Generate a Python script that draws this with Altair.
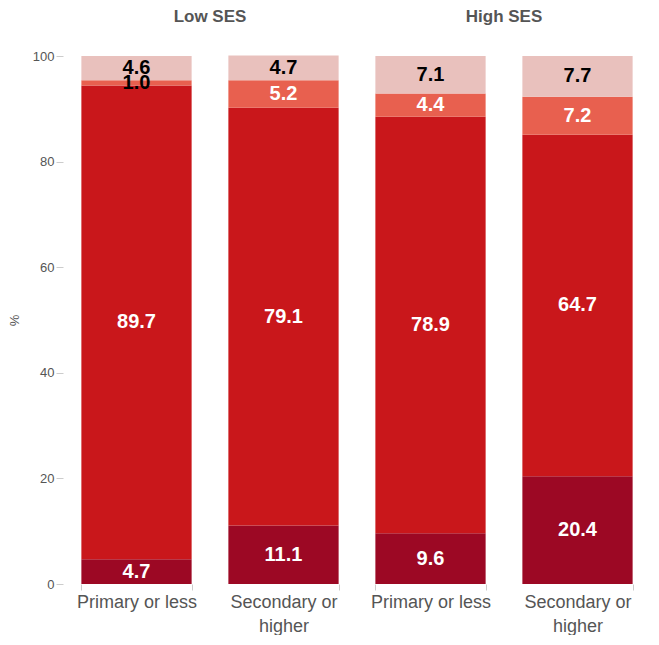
import altair as alt
import pandas as pd

ses = ["Low SES", "Low SES", "High SES", "High SES"]
edu = ["Primary or less", "Secondary or higher", "Primary or less", "Secondary or higher"]
seg_names = ["s1", "s2", "s3", "s4"]
seg_colors = ["#9c0824", "#c9171b", "#e8604f", "#e9c1bd"]
s1 = [4.7, 11.1, 9.6, 20.4]
s2 = [89.7, 79.1, 78.9, 64.7]
s3 = [1.0, 5.2, 4.4, 7.2]
s4 = [4.6, 4.7, 7.1, 7.7]
text_colors = {
    "s1": ["white", "white", "white", "white"],
    "s2": ["white", "white", "white", "white"],
    "s3": ["black", "white", "white", "white"],
    "s4": ["black", "black", "black", "black"],
}

rows = []
for k, (name, vals) in enumerate(zip(seg_names, [s1, s2, s3, s4])):
    for i in range(4):
        rows.append({"ses": ses[i], "edu": edu[i], "seg": name, "order": k,
                     "value": vals[i], "tc": text_colors[name][i]})
df = pd.DataFrame(rows)

FONT = "Liberation Sans"
GRAY = "#555555"

base = alt.Chart(df).transform_stack(
    stack="value", groupby=["ses", "edu"], as_=["v0", "v1"],
    sort=[alt.SortField("order", order="ascending")]
).transform_calculate(mid="(datum.v0 + datum.v1) / 2")

xenc = alt.X("edu:N", title=None, sort=edu[:2],
             scale=alt.Scale(paddingInner=0.25, paddingOuter=0.125),
             axis=alt.Axis(labelAngle=0, labelFontSize=18, labelColor=GRAY,
                           labelFont=FONT, domain=False,
                           tickBand="extent", tickColor="#cccccc", tickSize=6,
                           labelPadding=3, labelLineHeight=24,
                           labelExpr="datum.value == 'Secondary or higher' ? ['Secondary or', 'higher'] : datum.value"))

bars = base.mark_bar().encode(
    x=xenc,
    y=alt.Y("v0:Q", title="%", scale=alt.Scale(domain=[0, 100], nice=False),
            axis=alt.Axis(values=[0, 20, 40, 60, 80, 100], grid=False, domain=False,
                          tickColor="#cccccc", tickSize=7, labelColor=GRAY,
                          labelFontSize=13, labelFont=FONT, labelPadding=2,
                          titleFontSize=13, titleFontWeight="normal",
                          titleColor=GRAY, titleFont=FONT, titlePadding=11)),
    y2="v1:Q",
    color=alt.Color("seg:N", scale=alt.Scale(domain=seg_names, range=seg_colors), legend=None),
)

texts = base.mark_text(fontSize=20, fontWeight="bold", font=FONT).encode(
    x=xenc,
    y=alt.Y("mid:Q"),
    text=alt.Text("value:Q", format=".1f"),
    color=alt.Color("tc:N", scale=None),
)

chart = alt.layer(bars, texts).properties(width=294, height=528).facet(
    column=alt.Column("ses:N", sort=["Low SES", "High SES"],
                      header=alt.Header(title=None, labelFontSize=17, labelFontWeight="bold",
                                        labelColor=GRAY, labelFont=FONT,
                                        labelPadding=29))
).properties(
    padding={"left": 0, "top": 0, "right": 0, "bottom": 0}
).configure_facet(spacing=0).configure_view(stroke=None)

chart.save("out.html", embed_options={"renderer": "svg", "actions": False})
